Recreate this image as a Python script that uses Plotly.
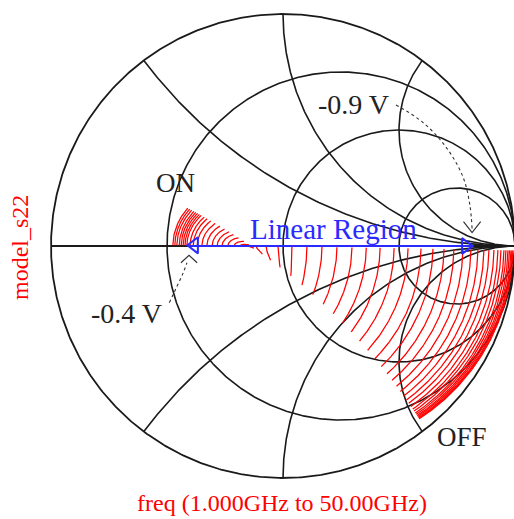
import numpy as np
import plotly.graph_objects as go

# ---------------- data ----------------
# Smith chart grid (normalised resistance circles and reactance arcs)
r_circles = [1/3, 1.0, 3.0]
x_arcs = [0.5, 1.0, 2.0, -0.5, -1.0, -2.0]

# frequency sweep: 1.000 GHz to 50.00 GHz
freq_ghz = np.linspace(1.0, 50.0, 197)

# resistance seen at 1 GHz for each bias trace (ON, -0.4 V  ->  OFF, -0.9 V)
r_start_ohm = [17.8, 18.2, 18.6, 19.1, 19.5, 19.9, 20.3, 20.7, 21.4, 22.1,
               23.0, 24.1, 25.3, 26.6, 27.9, 29.2, 30.8, 32.6, 34.4,
               36.2, 39.6, 43.2, 47.9, 54.0, 61.5, 70.2, 80.3, 92.3, 106, 122,
               142, 167, 197, 233, 277, 330, 396, 477, 577, 698, 842, 1055,
               1314, 1608, 2060, 2527, 3262, 4170, 5764, 7700, 11580]

# equivalent circuit of the output port (fitted to the chart)
z0_ohm = 50.0
rs_ohm = 6.0      # series access resistance
l_ph = 28.6       # channel inductance
c_ff = 31.0       # output capacitance

# annotation geometry (reflection-coefficient plane)
linear_region_gamma = [-0.41, 0.815]
arrow_09_gamma_x = [0.487, 0.60, 0.70, 0.775, 0.805, 0.815]
arrow_09_gamma_y = [0.608, 0.535, 0.43, 0.30, 0.18, 0.075]
chevron_09_x = [0.778, 0.815, 0.852]
chevron_09_y = [0.105, 0.058, 0.105]
arrow_04_gamma_x = [-0.49, -0.46, -0.432, -0.414]
arrow_04_gamma_y = [-0.245, -0.18, -0.12, -0.072]
chevron_04_x = [-0.44, -0.405, -0.37]
chevron_04_y = [-0.072, -0.040, -0.072]

# ---------------- figure ----------------
GRID = "#1a1a1a"
RED = "#ff0000"
BLUE = "#2a2aff"
TXT = "#222222"
FONT = "Liberation Serif, Times New Roman, serif"

fig = go.Figure()

# unit circle and real axis
th = np.linspace(0, 2 * np.pi, 721)
fig.add_trace(go.Scatter(x=np.cos(th), y=np.sin(th), mode="lines",
                         line=dict(color=GRID, width=1.8), hoverinfo="skip"))
fig.add_trace(go.Scatter(x=[-1, 1], y=[0, 0], mode="lines",
                         line=dict(color=GRID, width=1.8), hoverinfo="skip"))

# constant resistance circles
for r in r_circles:
    c = r / (1 + r)
    rad = 1 / (1 + r)
    fig.add_trace(go.Scatter(x=c + rad * np.cos(th), y=rad * np.sin(th), mode="lines",
                             line=dict(color=GRID, width=1.6), hoverinfo="skip"))

# constant reactance arcs
rr = np.concatenate([[0.0], np.geomspace(1e-3, 1e5, 600)])
for xv in x_arcs:
    z = rr + 1j * xv
    g = (z - 1) / (z + 1)
    fig.add_trace(go.Scatter(x=g.real, y=g.imag, mode="lines",
                             line=dict(color=GRID, width=1.6), hoverinfo="skip"))

# model_s22 traces
w = 2 * np.pi * freq_ghz * 1e9
for rstart in r_start_ohm:
    zch = (rstart - rs_ohm) + 1j * w * l_ph * 1e-12
    y = 1 / zch + 1j * w * c_ff * 1e-15
    z = rs_ohm + 1 / y
    s22 = (z - z0_ohm) / (z + z0_ohm)
    fig.add_trace(go.Scatter(x=s22.real, y=s22.imag, mode="lines",
                             line=dict(color=RED, width=1.25), hoverinfo="skip"))

# Linear Region double arrow
fig.add_trace(go.Scatter(x=linear_region_gamma, y=[0, 0], mode="lines",
                         line=dict(color=BLUE, width=2.2), hoverinfo="skip"))
fig.add_trace(go.Scatter(x=[linear_region_gamma[0] + 0.028], y=[0.003], mode="markers",
                         marker=dict(symbol="triangle-left-open", size=14, color=BLUE,
                                     line=dict(color=BLUE, width=2)), hoverinfo="skip"))
fig.add_trace(go.Scatter(x=[linear_region_gamma[1] - 0.028], y=[0.0], mode="markers",
                         marker=dict(symbol="triangle-right-open", size=14, color=BLUE,
                                     line=dict(color=BLUE, width=2)), hoverinfo="skip"))

# dashed bias arrows
DASH = "#333333"
fig.add_trace(go.Scatter(x=arrow_09_gamma_x, y=arrow_09_gamma_y, mode="lines",
                         line=dict(color=DASH, width=1.1, dash="3px,3px", shape="spline"),
                         hoverinfo="skip"))
fig.add_trace(go.Scatter(x=chevron_09_x, y=chevron_09_y, mode="lines",
                         line=dict(color=DASH, width=1.2), hoverinfo="skip"))
fig.add_trace(go.Scatter(x=arrow_04_gamma_x, y=arrow_04_gamma_y, mode="lines",
                         line=dict(color=DASH, width=1.1, dash="3px,3px", shape="spline"),
                         hoverinfo="skip"))
fig.add_trace(go.Scatter(x=chevron_04_x, y=chevron_04_y, mode="lines",
                         line=dict(color=DASH, width=1.2), hoverinfo="skip"))

annotations = [
    dict(x=0.216, y=0.072, text="Linear Region", font=dict(color=BLUE, size=29, family=FONT)),
    dict(x=-0.462, y=0.272, text="ON", font=dict(color=TXT, size=27, family=FONT)),
    dict(x=0.772, y=-0.825, text="OFF", font=dict(color=TXT, size=27, family=FONT)),
    dict(x=0.304, y=0.612, text="-0.9 V", font=dict(color=TXT, size=28, family=FONT)),
    dict(x=-0.676, y=-0.289, text="-0.4 V", font=dict(color=TXT, size=28, family=FONT)),
]
for a in annotations:
    a.update(xref="x", yref="y", showarrow=False, xanchor="center", yanchor="middle")

annotations.append(dict(x=20 / 514, y=1 - 248 / 519, xref="paper", yref="paper",
                        text="model_s22", textangle=-90, showarrow=False,
                        font=dict(color=RED, size=24, family=FONT),
                        xanchor="center", yanchor="middle"))
annotations.append(dict(x=282 / 514, y=1 - 503 / 519, xref="paper", yref="paper",
                        text="freq (1.000GHz to 50.00GHz)", showarrow=False,
                        font=dict(color=RED, size=24, family=FONT),
                        xanchor="center", yanchor="middle"))

cx, cy, R = 283.0, 246.0, 232.0
fig.update_layout(
    width=514, height=519,
    margin=dict(l=0, r=0, t=0, b=0),
    paper_bgcolor="white", plot_bgcolor="white",
    showlegend=False,
    xaxis=dict(range=[-cx / R, (514 - cx) / R], visible=False, fixedrange=True),
    yaxis=dict(range=[-(519 - cy) / R, cy / R], visible=False, fixedrange=True),
    annotations=annotations,
)

fig.write_html("out.html")
